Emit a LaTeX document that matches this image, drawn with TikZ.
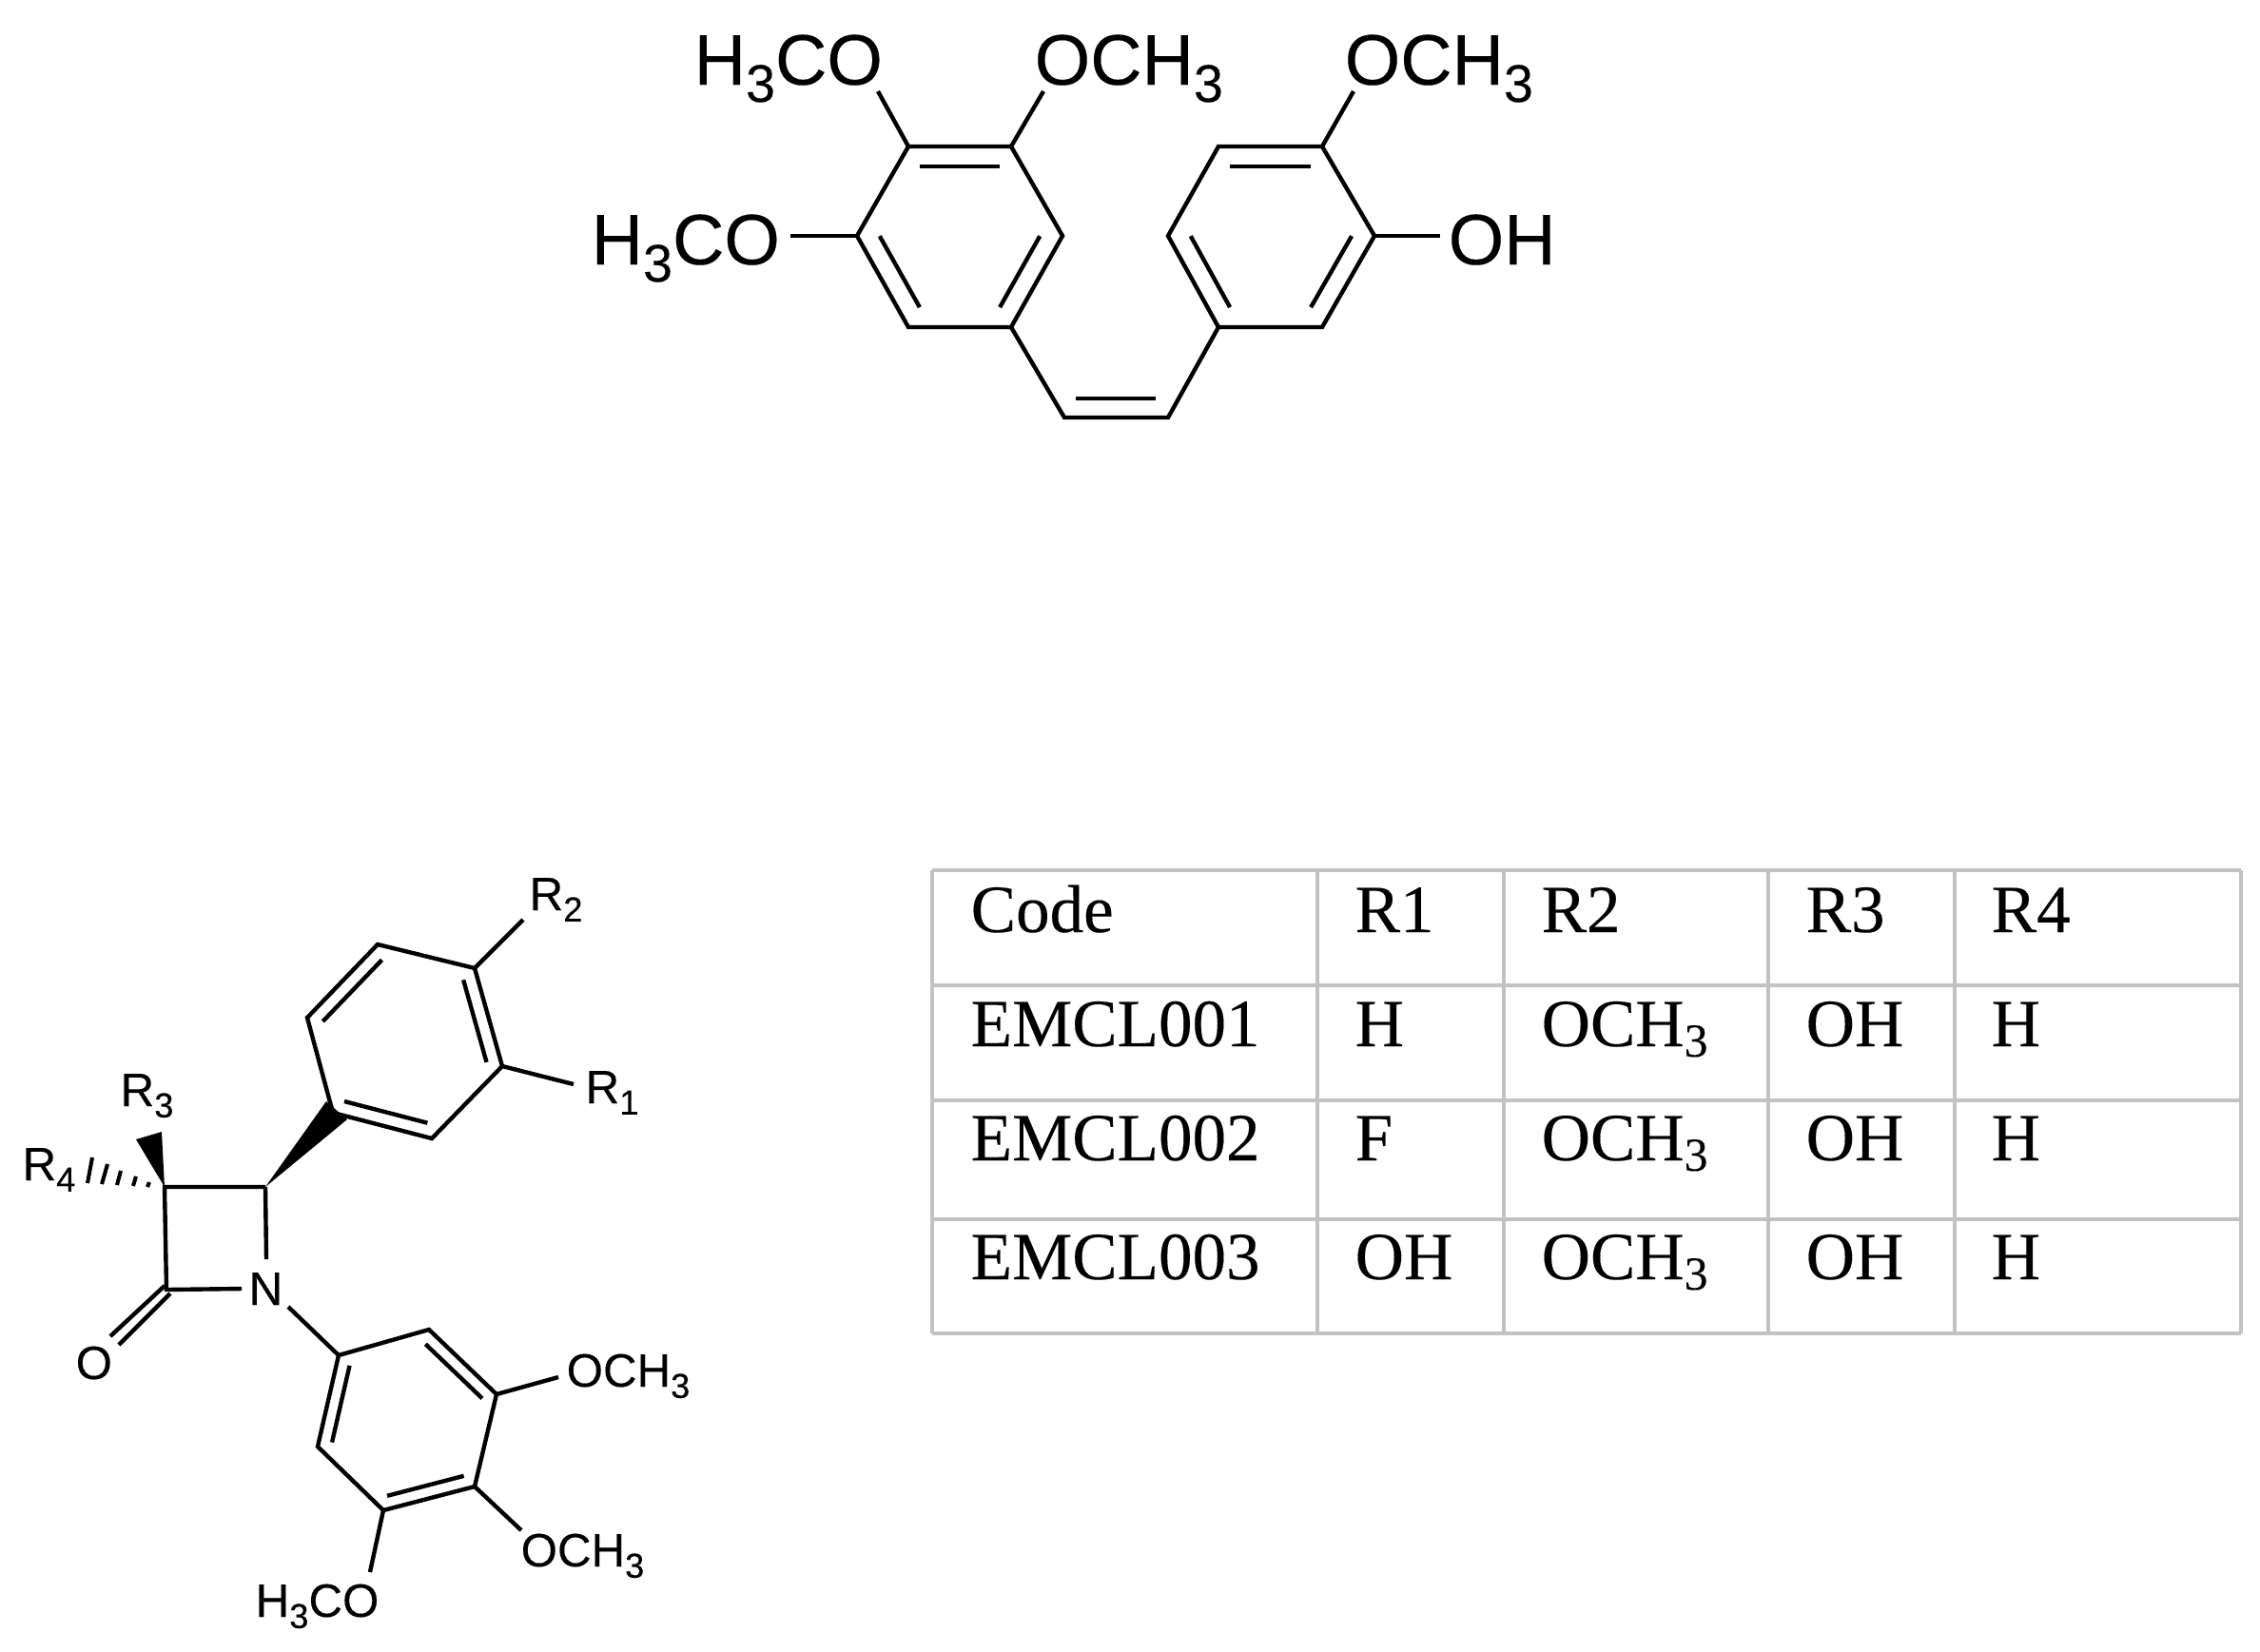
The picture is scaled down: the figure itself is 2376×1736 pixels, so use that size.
\documentclass[tikz,border=0pt]{standalone}
\usepackage{fontspec}
\usepackage{tikz}
\usetikzlibrary{calc}
\setmainfont{Liberation Sans}[FakeBold=0.2]
\newfontfamily\cellfont{Liberation Serif}[FakeBold=0.2]
\newcommand{\subnum}[1]{\raisebox{-0.24em}{\scalebox{0.74}{#1}}}
\newcommand{\innerbonds}[3]{%
    \foreach \a/\b in {#3} {
        \draw[bond] ($(#1)!#2!(\a)$) -- ($(#1)!#2!(\b)$);
    }
}
\begin{document}
\begin{tikzpicture}[
            x = 0.01cm,
            y = -0.01cm,
            line join = miter
        ]
        \tikzstyle{bond}=[
            line width = 1.25pt
        ]
        \tikzstyle{hashbond}=[
            line width = 1.15pt
        ]
        \tikzstyle{big}=[
            inner sep = 0pt,
            anchor = base west,
            font = \fontsize{21.4}{25}\selectfont
        ]
        \tikzstyle{small}=[
            inner sep = 0pt,
            anchor = base west,
            font = \fontsize{14}{16}\selectfont
        ]
        \tikzstyle{cell}=[
            inner sep = 0pt,
            anchor = base west,
            font = \cellfont\fontsize{20.2}{24}\selectfont
        ]
        \tikzstyle{gridv}=[
            draw = black!24,
            line width = 0.9pt
        ]
        \tikzstyle{gridh}=[
            draw = black!24,
            line width = 1.1pt
        ]
        \useasboundingbox (0,0) rectangle (2376,1736);

        \coordinate (a1) at (955,154);
        \coordinate (a2) at (1063,154);
        \coordinate (a3) at (1117,248);
        \coordinate (a4) at (1063,344);
        \coordinate (a5) at (955,344);
        \coordinate (a6) at (901,248);
        \coordinate (ac) at (1009,249);
        \coordinate (b1) at (1281,154);
        \coordinate (b2) at (1390,154);
        \coordinate (b3) at (1445,248);
        \coordinate (b4) at (1390,344);
        \coordinate (b5) at (1281,344);
        \coordinate (b6) at (1228,248);
        \coordinate (bc) at (1336,249);
        \coordinate (v1) at (1119,439);
        \coordinate (v2) at (1228,439);
        \coordinate (v1i) at (1131,419);
        \coordinate (v2i) at (1215,419);

        \node[big] (ome1) at (729,89) {H\subnum{3}CO};
        \node[big] (ome2) at (1087,89) {OCH\subnum{3}};
        \node[big] (ome3) at (1413,89) {OCH\subnum{3}};
        \node[big] (ome4) at (621,278) {H\subnum{3}CO};
        \node[big] (oh) at (1522,278) {OH};
        \coordinate (ome1e) at (923,96);
        \coordinate (ome2e) at (1097,96);
        \coordinate (ome3e) at (1423,96);
        \coordinate (ome4e) at (831,248);
        \coordinate (ohe) at (1514,248);

        \draw[bond] (a1) -- (a2) -- (a3) -- (a4) -- (a5) -- (a6) -- cycle;
        \draw[bond] (b1) -- (b2) -- (b3) -- (b4) -- (b5) -- (b6) -- cycle;
        \draw[bond] (a4) -- (v1) -- (v2) -- (b5);
        \draw[bond] (v1i) -- (v2i);
        \innerbonds{ac}{.78}{a1/a2, a3/a4, a5/a6}
        \innerbonds{bc}{.78}{b1/b2, b3/b4, b5/b6}
        \draw[bond] (a1) -- (ome1e);
        \draw[bond] (a2) -- (ome2e);
        \draw[bond] (b2) -- (ome3e);
        \draw[bond] (a6) -- (ome4e);
        \draw[bond] (b3) -- (ohe);

        \coordinate (c1) at (397,993);
        \coordinate (c2) at (499,1018);
        \coordinate (c3) at (528,1121);
        \coordinate (c4) at (454,1197);
        \coordinate (c5) at (350,1170);
        \coordinate (c6) at (323,1070);
        \coordinate (cc) at (425,1095);
        \coordinate (p1) at (356,1425);
        \coordinate (p2) at (451,1398);
        \coordinate (p3) at (522,1466);
        \coordinate (p4) at (499,1563);
        \coordinate (p5) at (403,1588);
        \coordinate (p6) at (334,1521);
        \coordinate (pc) at (428,1493);
        \coordinate (l1) at (173,1248);
        \coordinate (l2) at (279,1248);
        \coordinate (l3) at (175,1356);

        \node[small] (r1) at (615,1160) {R\subnum{1}};
        \node[small] (r2) at (556,957) {R\subnum{2}};
        \node[small] (r3) at (126,1163) {R\subnum{3}};
        \node[small] (r4) at (23,1241) {R\subnum{4}};
        \node[small] (n) at (261,1372) {N};
        \node[small] (o) at (79,1450) {O};
        \node[small] (ome5) at (595,1458) {OCH\subnum{3}};
        \node[small] (ome6) at (547,1647) {OCH\subnum{3}};
        \node[small] (ome7) at (268,1700) {H\subnum{3}CO};
        \coordinate (r1e) at (603,1140);
        \coordinate (r2e) at (550,967);
        \coordinate (ne) at (280,1324);
        \coordinate (nw) at (254,1355);
        \coordinate (ns) at (303,1374);
        \coordinate (ome5e) at (587,1448);
        \coordinate (ome6e) at (548,1609);
        \coordinate (ome7e) at (389,1653);
        \coordinate (o1) at (173,1352);
        \coordinate (o2) at (179,1360);
        \coordinate (o1e) at (116,1405);
        \coordinate (o2e) at (125,1414);

        \draw[bond] (c1) -- (c2) -- (c3) -- (c4) -- (c5) -- (c6) -- cycle;
        \draw[bond] (p1) -- (p2) -- (p3) -- (p4) -- (p5) -- (p6) -- cycle;
        \innerbonds{cc}{.84}{c1/c6, c2/c3, c4/c5}
        \innerbonds{pc}{.84}{p2/p3, p4/p5, p6/p1}
        \draw[bond] (c2) -- (r2e);
        \draw[bond] (c3) -- (r1e);
        \draw[bond] (p3) -- (ome5e);
        \draw[bond] (p4) -- (ome6e);
        \draw[bond] (p5) -- (ome7e);
        \draw[bond] (l2) -- (l1) -- (l3) -- (nw);
        \draw[bond] (l2) -- (ne);
        \draw[bond] (ns) -- (p1);
        \draw[bond] (o1) -- (o1e);
        \draw[bond] (o2) -- (o2e);

        \coordinate (w1a) at (343,1158);
        \coordinate (w1b) at (365,1177);
        \coordinate (w2a) at (143,1198);
        \coordinate (w2b) at (170,1190);
        \fill (l2) -- (w1a) -- (w1b) -- cycle;
        \fill (l1) -- (w2a) -- (w2b) -- cycle;
        \foreach \xa/\ya/\xb/\yb in {97/1217/92/1244, 113/1224/107/1245, 127/1231/123/1246, 143/1237/140/1247, 157/1243/155/1248} {
            \draw[hashbond] (\xa,\ya) -- (\xb,\yb);
        }

        \foreach \vx in {980,1385,1581,1859,2055,2356} {
            \draw[gridv] (\vx,915) -- (\vx,1402);
        }
        \foreach \hy in {915,1036,1157,1282,1402} {
            \draw[gridh] (980,\hy) -- (2356,\hy);
        }
        \node[cell] (code) at (1020,980) {Code};
        \node[cell] (head1) at (1424,980) {R1};
        \node[cell] (head2) at (1620,980) {R2};
        \node[cell] (head3) at (1898,980) {R3};
        \node[cell] (head4) at (2093,980) {R4};
        \foreach \rw/\by/\val in {1/1100/H, 2/1220/F, 3/1345/OH} {
            \node[cell] (code\rw) at (1020,\by) {EMCL00\rw};
            \node[cell] (one\rw) at (1424,\by) {\val};
            \node[cell] (two\rw) at (1620,\by) {OCH\textsubscript{3}};
            \node[cell] (three\rw) at (1898,\by) {OH};
            \node[cell] (four\rw) at (2093,\by) {H};
        }
\end{tikzpicture}
\end{document}
